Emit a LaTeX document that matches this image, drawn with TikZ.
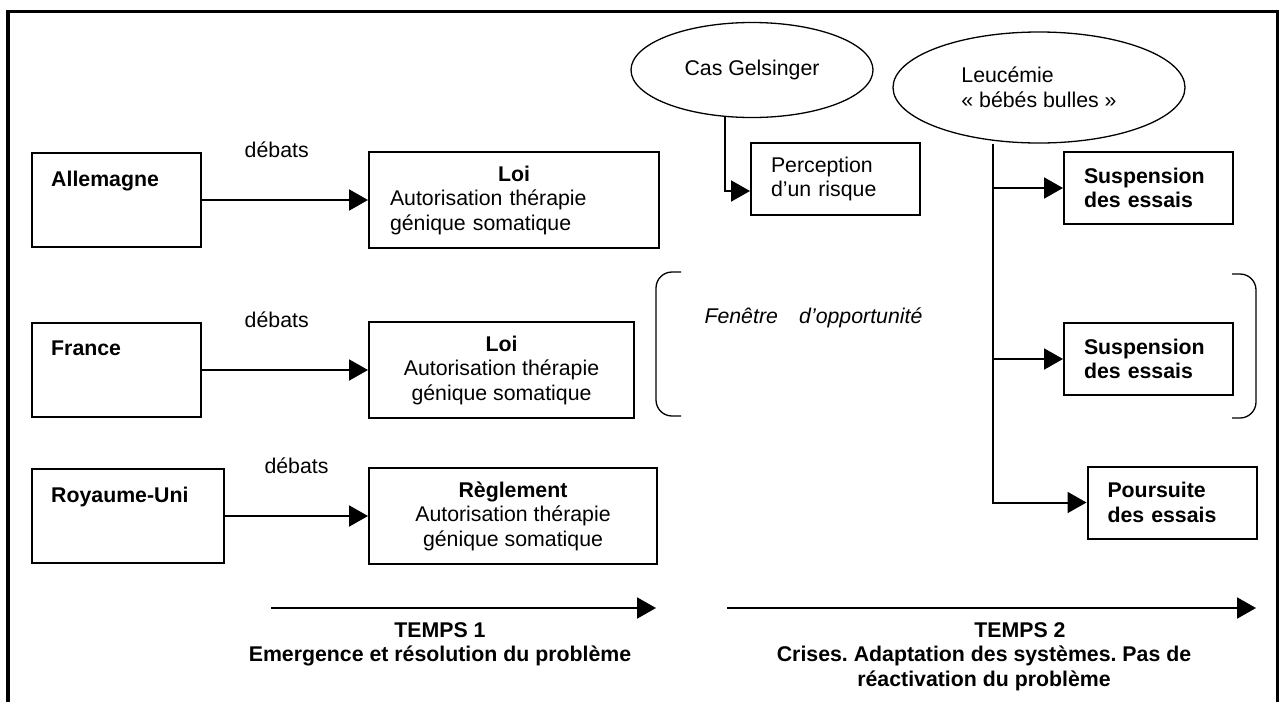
\documentclass[tikz,border=0pt]{standalone}
\usepackage{fontspec}
\setmainfont{Liberation Sans}
\usetikzlibrary{arrows.meta, positioning, calc, shapes.geometric}
\newcommand{\diagfont}{\fontsize{21.3pt}{24.5pt}\selectfont\frenchspacing}

\begin{document}
\begin{tikzpicture}[
    x=1pt, y=-1pt,
    every node/.style={font=\diagfont},
    base/.style={rectangle, draw=black, line width=2pt, inner sep=0pt},
    country/.style={base, minimum width=169pt, minimum height=94pt},
    countryname/.style={anchor=north west, font=\diagfont\bfseries, inner sep=0pt, xshift=20pt, yshift=-19pt},
    law/.style={base, minimum width=290pt, minimum height=96pt, align=center},
    effect/.style={base, minimum width=169pt, minimum height=72pt, text width=129pt, inner xsep=20pt, align=left},
    outcome/.style={effect, font=\diagfont\bfseries},
    event/.style={ellipse, draw=black, line width=1.3pt, inner sep=0pt},
    line/.style={draw=black, line width=2pt, -{Triangle[length=19pt, width=21pt]}},
    edgetext/.style={inner sep=0pt},
    timetext/.style={align=center, font=\diagfont\bfseries},
    bracket/.style={line width=1.3pt, rounded corners=16pt}
]
\useasboundingbox (0,0) rectangle (1282,702);

% cadre
\draw[line width=3.4pt] (8,702) -- (8,11.5) -- (1277.5,11.5) -- (1277.5,702);

% temps 1 : pays et textes
\node[country, label={[countryname]north west:Allemagne}] (allemagne) at (116.5,200) {};
\node[law, right=166pt of allemagne, text width=248pt, inner xsep=21pt, align=left] (loi1) {\makebox[\hsize]{\textbf{Loi}}\\Autorisation thérapie\\génique somatique};

\node[country, below=74pt of allemagne, label={[countryname]north west:France}] (france) {};
\node[law, minimum width=265pt, right=166pt of france] (loi2) {\textbf{Loi}\\Autorisation thérapie\\génique somatique};

\node[country, minimum width=192pt, below=50pt of france.south west, anchor=north west, label={[countryname]north west:Royaume-Uni}] (royaume) {};
\node[law, minimum width=288pt, right=143pt of royaume] (regl) {\textbf{Règlement}\\Autorisation thérapie\\génique somatique};

\draw[line] (loi1.west -| allemagne.east) -- node[edgetext, pos=0.45, yshift=50pt] {débats} (loi1.west);
\draw[line] (loi2.west -| france.east) -- node[edgetext, pos=0.45, yshift=50pt] {débats} (loi2.west);
\draw[line] (regl.west -| royaume.east) -- node[edgetext, pos=0.5, yshift=50pt] {débats} (regl.west);

% temps 2 : crises
\node[event, minimum width=242pt, minimum height=95pt] (gelsinger) at (752,70) {Cas Gelsinger};
\node[effect] (perc) at (835.5,179) {Perception\\d’un risque};
\draw[line] (gelsinger.240) |- ([yshift=-12pt]perc.west);

\node[event, minimum width=292pt, minimum height=111pt, align=left] (leucemie) at (1039,87.5) {Leucémie\\« bébés bulles »};
\node[outcome] (susp1) at (1148.5,188) {Suspension\\des essais};
\node[outcome, below=97pt of susp1] (susp2) {Suspension\\des essais};
\node[outcome] (pours) at (1172,502.5) {Poursuite\\des essais};

\coordinate (trunk) at ([xshift=-46pt]leucemie.south);
\draw[line] (trunk) |- (pours.west);
\draw[line] (trunk |- susp1.west) -- (susp1.west);
\draw[line] (trunk |- susp2.west) -- (susp2.west);

% fenetre d'opportunite
\node[font=\diagfont\itshape, anchor=west] (fenetre) at (701,318) {Fenêtre\quad d’opportunité};
\draw[bracket] (681,272) -| (656,416) -- (681,416);
\draw[bracket] (1232,274) -| (1256,418) -- (1232,418);

% axes du temps
\coordinate (t1a) at (271,608);
\coordinate (t1b) at (656,608);
\draw[line] (t1a) -- (t1b);
\node[timetext] (temps1) at (440,644.5) {TEMPS 1\\Emergence et résolution du problème};

\coordinate (t2a) at (727,608);
\coordinate (t2b) at (1256,608);
\draw[line] (t2a) -- (t2b);
\node[timetext] (temps2) at (984,656.7) {\hspace*{72pt}TEMPS 2\\Crises. Adaptation des systèmes. Pas de\\réactivation du problème};

\end{tikzpicture}
\end{document}
